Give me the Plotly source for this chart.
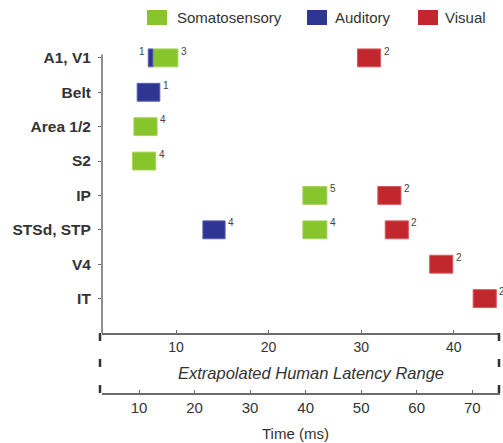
import plotly.graph_objects as go

# ---------------- data ----------------
regions = ["A1, V1", "Belt", "Area 1/2", "S2", "IP", "STSd, STP", "V4", "IT"]

soma_region = ["A1, V1", "Area 1/2", "S2", "IP", "STSd, STP"]
soma_start = [7.5, 5.45, 5.3, 23.7, 23.7]
soma_end = [10.2, 7.95, 7.8, 26.3, 26.3]
soma_n = ["3", "4", "4", "5", "4"]
soma_side = ["right", "right", "right", "right", "right"]

aud_region = ["A1, V1", "Belt", "STSd, STP"]
aud_start = [7.0, 5.8, 12.9]
aud_end = [7.5, 8.25, 15.3]
aud_n = ["1", "1", "4"]
aud_side = ["left", "right", "right"]

vis_region = ["A1, V1", "IP", "STSd, STP", "V4", "IT"]
vis_start = [29.6, 31.8, 32.6, 37.4, 42.1]
vis_end = [32.1, 34.3, 35.1, 39.9, 44.6]
vis_n = ["2", "2", "2", "2", "2"]
vis_side = ["right", "right", "right", "right", "right"]

monkey_ticks = [10, 20, 30, 40]
human_ticks = [10, 20, 30, 40, 50, 60, 70]
monkey_range = [2, 45]
human_factor = 5 / 3  # human latency = monkey latency * 5/3

series = [
    ("Somatosensory", soma_region, soma_start, soma_end, soma_n, soma_side, "#88c42c", "#a6d560"),
    ("Auditory", aud_region, aud_start, aud_end, aud_n, aud_side, "#2e3592", "#5a60b0"),
    ("Visual", vis_region, vis_start, vis_end, vis_n, vis_side, "#c1272d", "#d9595e"),
]

# ---------------- layout geometry ----------------
W, H = 503, 443
ML, MR, MT, MB = 102, 3, 40, 50
PW, PH = W - ML - MR, H - MT - MB
split = 60 / PH  # lower (human) panel height fraction


def pxx(x):
    return (x - ML) / PW


def pxy(y):
    return (H - MB - y) / PH


FONT = "Liberation Sans, Arial, sans-serif"
TXT = "#333333"
AX = "#6b6b6b"

fig = go.Figure()
annotations = []
for name, reg, st, en, ns, side, col, lcol in series:
    yi = [regions.index(r) for r in reg]
    fig.add_trace(go.Bar(
        name=name, orientation="h", y=yi, base=st,
        x=[e - s for s, e in zip(st, en)], width=0.52,
        marker=dict(color=col, line=dict(color=lcol, width=1)),
        showlegend=False, xaxis="x", yaxis="y",
    ))
    for y, s, e, n, sd in zip(yi, st, en, ns, side):
        annotations.append(dict(
            x=e if sd == "right" else s, y=y - 0.2, xref="x", yref="y",
            text=n, showarrow=False,
            xanchor="left" if sd == "right" else "right", yanchor="middle",
            xshift=1 if sd == "right" else -1,
            font=dict(family=FONT, size=10, color="#444"),
        ))

# invisible trace so the human-latency axis is drawn
hr = [monkey_range[0] * human_factor, monkey_range[1] * human_factor]
fig.add_trace(go.Scatter(x=hr, y=[0.5, 0.5], xaxis="x2", yaxis="y2", mode="markers",
                         marker=dict(opacity=0), hoverinfo="skip", showlegend=False))

# legend (manual)
leg = [("Somatosensory", "#88c42c", 147, 175), ("Auditory", "#2e3592", 307, 333),
       ("Visual", "#c1272d", 418, 443)]
shapes = []
for label, col, x0, tx in leg:
    shapes.append(dict(type="rect", xref="paper", yref="paper",
                       x0=pxx(x0), x1=pxx(x0 + 20), y0=pxy(25), y1=pxy(10),
                       fillcolor=col, line=dict(width=0)))
    annotations.append(dict(x=pxx(tx), y=pxy(17.5), xref="paper", yref="paper",
                            text=label, showarrow=False, xanchor="left", yanchor="middle",
                            font=dict(family=FONT, size=15, color=TXT)))

# y axis line
shapes.append(dict(type="line", xref="paper", yref="y", x0=0, x1=0, y0=-0.1, y1=len(regions),
                   line=dict(color=AX, width=1.5)))
# dashed bracket lines of human panel
for xp in [pxx(100), pxx(499)]:
    shapes.append(dict(type="line", xref="paper", yref="paper", x0=xp, x1=xp,
                       y0=0, y1=split,
                       line=dict(color="#333", width=2.5, dash="8px,18px")))

annotations.append(dict(x=pxx(311), y=pxy(373), xref="paper", yref="paper",
                        text="<i>Extrapolated Human Latency Range</i>", showarrow=False,
                        xanchor="center", yanchor="middle",
                        font=dict(family=FONT, size=16.5, color=TXT)))
annotations.append(dict(x=pxx(295), y=pxy(433), xref="paper", yref="paper",
                        text="Time (ms)", showarrow=False,
                        xanchor="center", yanchor="middle",
                        font=dict(family=FONT, size=15, color=TXT)))

fig.update_layout(
    width=W, height=H, margin=dict(l=ML, r=MR, t=MT, b=MB),
    paper_bgcolor="white", plot_bgcolor="white", barmode="overlay",
    showlegend=False,
    xaxis=dict(domain=[0, 1], anchor="y", range=monkey_range, tickvals=monkey_ticks,
               showline=True, linecolor=AX, linewidth=1.5, ticks="inside", ticklen=3,
               tickcolor=AX, showgrid=False, zeroline=False,
               tickfont=dict(family=FONT, size=14, color=TXT)),
    yaxis=dict(domain=[split, 1], anchor="x", range=[len(regions), -0.52],
               tickvals=list(range(len(regions))), ticktext=["<b>%s</b>" % r for r in regions],
               showline=False, ticks="outside", ticklen=3, tickcolor=AX, showgrid=False,
               zeroline=False, ticklabelstandoff=4,
               tickfont=dict(family=FONT, size=15.5, color=TXT)),
    xaxis2=dict(domain=[0, 1], anchor="y2", range=hr,
                tickvals=human_ticks, showline=True, linecolor=AX, linewidth=1.5,
                ticks="inside", ticklen=3, tickcolor=AX, showgrid=False, zeroline=False,
                tickfont=dict(family=FONT, size=15, color=TXT)),
    yaxis2=dict(domain=[0, split], anchor="x2", range=[0, 1], visible=False),
    shapes=shapes, annotations=annotations,
)

fig.write_html("out.html")
